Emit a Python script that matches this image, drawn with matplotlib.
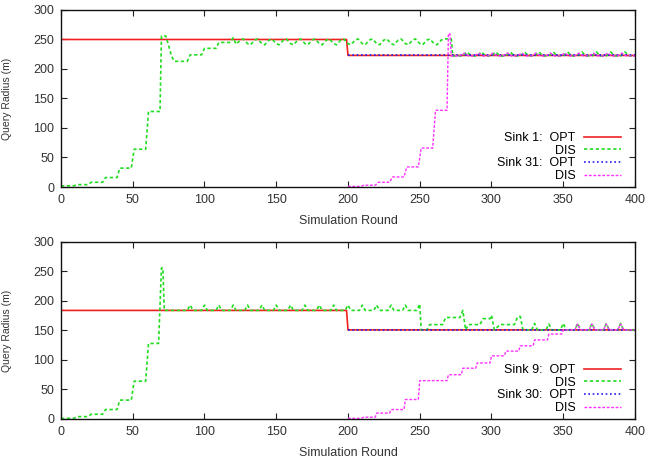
import matplotlib
matplotlib.use("Agg")
import matplotlib.pyplot as plt

plt.rcParams['font.family'] = ['Liberation Sans', 'DejaVu Sans']
plt.rcParams['font.size'] = 9

# ---- top panel: sinks 1 and 31 ----
s1_opt_x = [0, 199, 200, 400]
s1_opt_y = [250, 250, 223, 223]

s1_dis_x = [0, 9, 11, 19, 21, 29, 31, 39, 41, 49, 51, 59, 61, 69, 70, 73, 75, 77, 79, 88, 90, 98, 100,
            108, 110, 118, 120, 122,
            125, 127, 130, 132, 135, 137, 140, 142, 145, 147, 150, 152, 155, 157, 160, 162, 165, 167,
            170, 172, 175, 177, 180, 182, 185, 187, 190, 192, 195, 197,
            200, 202, 205, 207, 210, 212, 215, 217, 220, 222, 225, 227, 230, 232, 235, 237, 240, 242,
            245, 247, 250, 252, 255, 257, 260, 262, 265, 267, 270, 272, 273,
            280, 283, 286, 290, 293, 296, 300, 303, 306, 310, 313, 316, 320, 323, 326, 330, 333, 336,
            340, 343, 346, 350, 353, 356, 360, 363, 366, 370, 373, 376, 380, 383, 386, 390, 393, 396, 400]
s1_dis_y = [2, 2, 4, 4, 8, 8, 16, 16, 32, 32, 64, 64, 128, 128, 256, 256, 240, 222, 213, 213, 224, 224, 235,
            235, 245, 245, 253, 242,
            249, 251, 243, 241, 249, 251, 243, 241, 249, 251, 243, 241, 249, 251, 243, 241, 249, 251,
            243, 241, 249, 251, 243, 241, 249, 251, 243, 241, 249, 251,
            243, 241, 249, 251, 243, 241, 249, 251, 243, 241, 249, 251, 243, 241, 249, 251, 243, 241,
            249, 251, 243, 241, 249, 251, 243, 241, 249, 251, 251, 251, 222,
            222, 229, 222, 222, 229, 222, 222, 229, 222, 222, 229, 222, 222, 229, 222, 222, 229, 222,
            222, 229, 222, 222, 229, 222, 222, 229, 222, 222, 229, 222, 222, 229, 222, 222, 229, 222, 222]

s31_opt_x = [200, 400]
s31_opt_y = [223, 223]

s31_dis_x = [200, 209, 211, 219, 221, 229, 231, 239, 241, 249, 251, 259, 261, 269, 270, 271, 272,
             278, 281, 284, 288, 291, 294, 298, 301, 304, 308, 311, 314, 318, 321, 324, 328, 331, 334,
             338, 341, 344, 348, 351, 354, 358, 361, 364, 368, 371, 374, 378, 381, 384, 388, 391, 394, 400]
s31_dis_y = [1, 1, 3, 3, 8, 8, 17, 17, 34, 34, 66, 66, 130, 130, 260, 260, 222,
             222, 227, 222, 222, 227, 222, 222, 227, 222, 222, 227, 222, 222, 227, 222, 222, 227, 222,
             222, 227, 222, 222, 227, 222, 222, 227, 222, 222, 227, 222, 222, 227, 222, 222, 227, 222, 222]

# ---- bottom panel: sinks 9 and 30 ----
s9_opt_x = [0, 199, 200, 400]
s9_opt_y = [184, 184, 151, 151]

s9_dis_x = [0, 9, 11, 19, 21, 29, 31, 39, 41, 49, 51, 59, 61, 68, 70, 71, 72,
            88, 90, 92, 98, 100, 102, 108, 110, 112, 118, 120, 122, 128, 130, 132, 138, 140, 142,
            148, 150, 152, 158, 160, 162, 168, 170, 172, 178, 180, 182, 188, 190, 192, 198, 200, 202,
            208, 210, 212, 218, 220, 222, 228, 230, 232, 238, 240, 242, 248, 250, 251,
            255, 257, 266, 268, 278, 280, 282, 284, 292, 294, 299, 300, 302, 306, 316, 318, 320, 322,
            328, 330, 332, 338, 340, 342, 348, 350, 352, 358, 360, 362, 368, 370, 372, 378, 380, 382,
            388, 390, 392, 400]
s9_dis_y = [1, 1, 4, 4, 8, 8, 16, 16, 32, 32, 64, 64, 128, 128, 256, 256, 184,
            184, 193, 184, 184, 193, 184, 184, 193, 184, 184, 193, 184, 184, 193, 184, 184, 193, 184,
            184, 193, 184, 184, 193, 184, 184, 193, 184, 184, 193, 184, 184, 193, 184, 184, 193, 184,
            184, 193, 184, 184, 193, 184, 184, 193, 184, 184, 193, 184, 184, 195, 151,
            151, 160, 160, 172, 172, 184, 151, 160, 160, 170, 170, 176, 151, 160, 160, 172, 174, 151,
            151, 162, 151, 151, 161, 151, 151, 162, 151, 151, 162, 151, 151, 162, 151, 151, 162, 151,
            151, 162, 151, 151]

s30_opt_x = [200, 400]
s30_opt_y = [151, 151]

s30_dis_x = [200, 209, 211, 219, 220, 229, 230, 239, 240, 249, 250, 269, 270, 279, 280, 289, 290,
             299, 300, 309, 310, 319, 320, 329, 330, 339, 340, 349, 350,
             358, 360, 362, 368, 370, 372, 378, 380, 382, 388, 390, 392, 400]
s30_dis_y = [1, 1, 3, 3, 10, 10, 16, 16, 33, 33, 65, 65, 75, 75, 86, 86, 95,
             95, 107, 107, 115, 115, 124, 124, 134, 134, 144, 144, 151,
             151, 161, 151, 151, 161, 151, 151, 161, 151, 151, 161, 151, 151]

red = '#f02020'
green = '#22dd22'
blue = '#2020f0'
magenta = '#ff30ff'

fig = plt.figure(figsize=(6.51, 4.58), dpi=100)
ax1 = fig.add_axes([0.0937, 0.5917, 0.8817, 0.3865])
ax2 = fig.add_axes([0.0937, 0.0852, 0.8817, 0.3865])


def draw(ax, opt_a, dis_a, opt_b, dis_b, sink_a, sink_b):
    ax.plot(*opt_a, color=red, lw=1.2, label=f'Sink {sink_a}:  OPT')
    ax.plot(*dis_a, color=green, lw=1.2, ls=(0, (2, 1.5)), label='DIS')
    ax.plot(*opt_b, color=blue, lw=1.2, ls=(0, (1, 1.6)), label=f'Sink {sink_b}:  OPT')
    ax.plot(*dis_b, color=magenta, lw=1.0, ls=(0, (2, 1.2)), label='DIS')
    ax.set_xlim(0, 400)
    ax.set_ylim(0, 300)
    ax.set_xticks(range(0, 401, 50))
    ax.set_yticks(range(0, 301, 50))
    ax.tick_params(direction='in', top=True, right=True, length=4, width=0.8, pad=5,
                   colors='#222222', labelcolor='#333333')
    for s in ax.spines.values():
        s.set_linewidth(1.0)
        s.set_color('#111111')
    ax.set_xlabel('Simulation Round', labelpad=6.5, color='#333333')
    ax.set_ylabel('Query Radius (m)', labelpad=15, color='#333333', fontsize=7.5)
    ax.legend(loc='lower right', bbox_to_anchor=(0.976, 0.028), markerfirst=False, frameon=False,
              handlelength=3.0, labelspacing=0.05, handletextpad=0.65, borderaxespad=0,
              borderpad=0, fontsize=9)


draw(ax1, (s1_opt_x, s1_opt_y), (s1_dis_x, s1_dis_y), (s31_opt_x, s31_opt_y), (s31_dis_x, s31_dis_y), 1, 31)
draw(ax2, (s9_opt_x, s9_opt_y), (s9_dis_x, s9_dis_y), (s30_opt_x, s30_opt_y), (s30_dis_x, s30_dis_y), 9, 30)

fig.savefig('out.png', dpi=100)
